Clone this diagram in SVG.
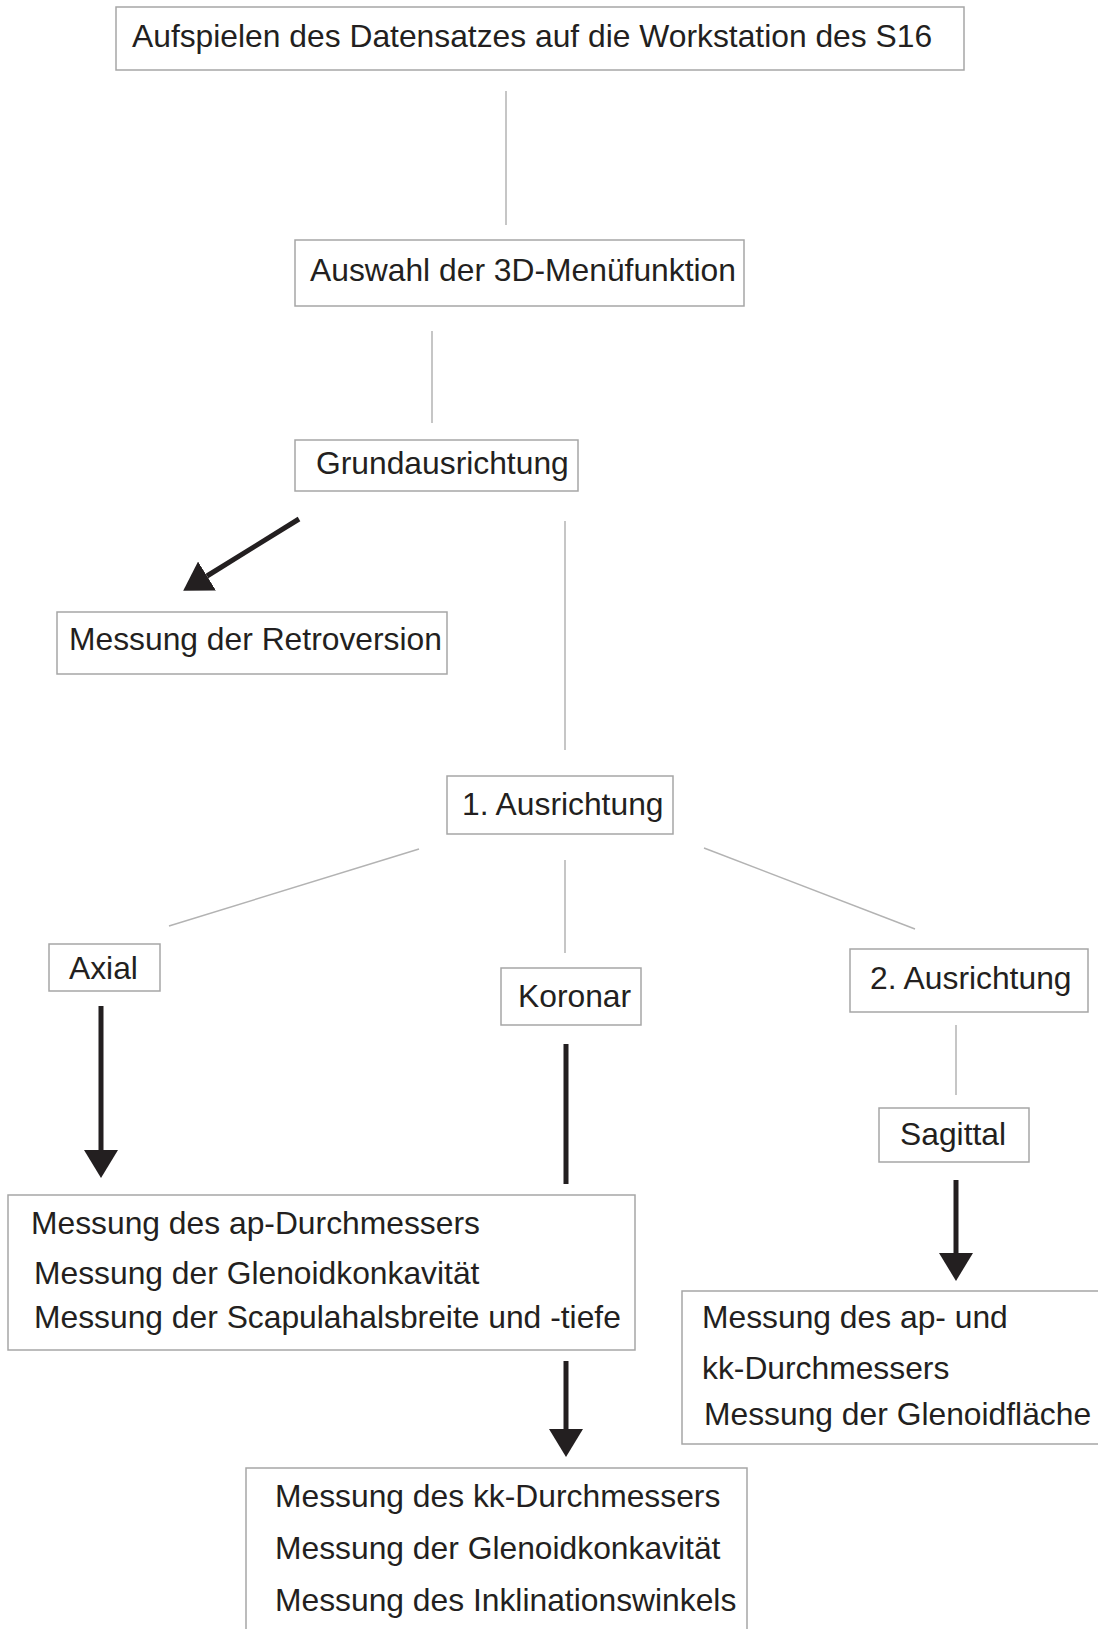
<svg xmlns="http://www.w3.org/2000/svg" width="1098" height="1629" viewBox="0 0 1098 1629">
  <defs>
    <style>
      .box { fill: #ffffff; stroke: #a6a6a6; stroke-width: 1.5; }
      .t { font-family: "Liberation Sans", Arial, sans-serif; font-size: 31.8px; fill: #231f20; }
      .thin { stroke: #b3b3b3; stroke-width: 1.5; fill: none; }
      .thick { stroke: #231f20; stroke-width: 5; fill: none; }
    </style>
    <marker id="ah" viewBox="0 0 28 34" refX="0" refY="17" markerWidth="28" markerHeight="34" markerUnits="userSpaceOnUse" orient="auto">
      <path d="M0,0 L28,17 L0,34 Z" fill="#231f20"/>
    </marker>
  </defs>
  <rect width="1098" height="1629" fill="#ffffff"/>

  <g id="connectors">
    <line class="thin" x1="506" y1="91" x2="506" y2="225"/>
    <line class="thin" x1="432" y1="331" x2="432" y2="423"/>
    <line class="thin" x1="565" y1="521" x2="565" y2="750"/>
    <line class="thick" x1="299" y1="519" x2="207" y2="576" marker-end="url(#ah)"/>
    <line class="thin" x1="419" y1="849" x2="169" y2="926"/>
    <line class="thin" x1="565" y1="860" x2="565" y2="953"/>
    <line class="thin" x1="704" y1="848" x2="915" y2="929"/>
    <line class="thick" x1="101" y1="1006" x2="101" y2="1150" marker-end="url(#ah)"/>
    <line class="thick" x1="566" y1="1044" x2="566" y2="1184"/>
    <line class="thin" x1="956" y1="1025" x2="956" y2="1095"/>
    <line class="thick" x1="956" y1="1180" x2="956" y2="1253" marker-end="url(#ah)"/>
    <line class="thick" x1="566" y1="1361" x2="566" y2="1429" marker-end="url(#ah)"/>
  </g>

  <g id="node-aufspielen">
    <rect class="box" x="116" y="7" width="848" height="63"/>
    <text class="t" x="132" y="47">Aufspielen des Datensatzes auf die Workstation des S16</text>
  </g>
  <g id="node-auswahl">
    <rect class="box" x="295" y="240" width="449" height="66"/>
    <text class="t" x="310" y="281">Auswahl der 3D-Menüfunktion</text>
  </g>
  <g id="node-grundausrichtung">
    <rect class="box" x="295" y="440" width="283" height="51"/>
    <text class="t" x="316" y="474">Grundausrichtung</text>
  </g>
  <g id="node-retroversion">
    <rect class="box" x="57" y="612" width="390" height="62"/>
    <text class="t" x="69" y="650">Messung der Retroversion</text>
  </g>
  <g id="node-ausrichtung1">
    <rect class="box" x="447" y="776" width="226" height="58"/>
    <text class="t" x="462" y="815">1. Ausrichtung</text>
  </g>
  <g id="node-axial">
    <rect class="box" x="49" y="944" width="111" height="47"/>
    <text class="t" x="69" y="979">Axial</text>
  </g>
  <g id="node-koronar">
    <rect class="box" x="501" y="968" width="140" height="57"/>
    <text class="t" x="518" y="1007">Koronar</text>
  </g>
  <g id="node-ausrichtung2">
    <rect class="box" x="850" y="949" width="238" height="63"/>
    <text class="t" x="870" y="989">2. Ausrichtung</text>
  </g>
  <g id="node-sagittal">
    <rect class="box" x="879" y="1108" width="150" height="54"/>
    <text class="t" x="900" y="1145">Sagittal</text>
  </g>
  <g id="node-messung-axial">
    <rect class="box" x="8" y="1195" width="627" height="155"/>
    <text class="t" x="31" y="1234">Messung des ap-Durchmessers</text>
    <text class="t" x="34" y="1284">Messung der Glenoidkonkavität</text>
    <text class="t" x="34" y="1328">Messung der Scapulahalsbreite und -tiefe</text>
  </g>
  <g id="node-messung-sagittal">
    <rect class="box" x="682" y="1291" width="430" height="153"/>
    <text class="t" x="702" y="1328">Messung des ap- und</text>
    <text class="t" x="702" y="1379">kk-Durchmessers</text>
    <text class="t" x="704" y="1425">Messung der Glenoidfläche</text>
  </g>
  <g id="node-messung-koronar">
    <rect class="box" x="246" y="1468" width="501" height="180"/>
    <text class="t" x="275" y="1507">Messung des kk-Durchmessers</text>
    <text class="t" x="275" y="1559">Messung der Glenoidkonkavität</text>
    <text class="t" x="275" y="1611">Messung des Inklinationswinkels</text>
  </g>
</svg>
